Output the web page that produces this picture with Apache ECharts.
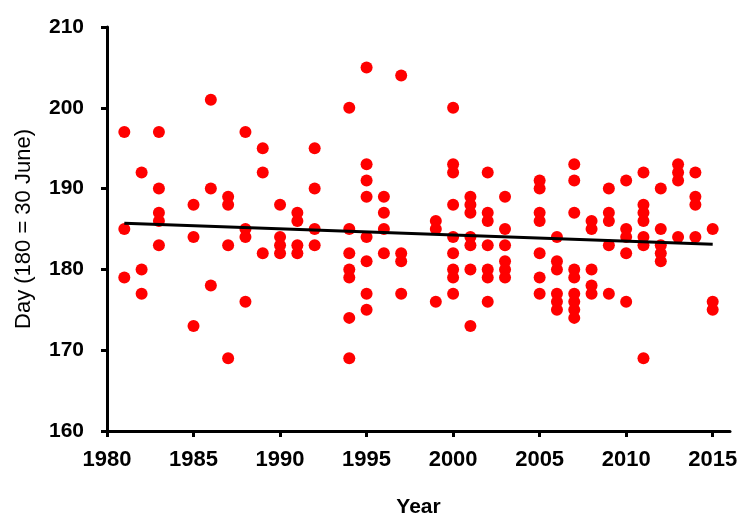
<!DOCTYPE html>
<html>
<head>
<meta charset="utf-8">
<script src="https://cdn.jsdelivr.net/npm/echarts@6/dist/echarts.min.js"></script>
<style>html,body{margin:0;padding:0;background:#fff}#c{width:753px;height:514px}</style>
</head>
<body>
<div id="c"></div>
<script>
var years = [
 1981,1981,1981,
 1982,1982,1982,
 1983,1983,1983,1983,1983,
 1985,1985,1985,
 1986,1986,1986,
 1987,1987,1987,1987,
 1988,1988,1988,1988,
 1989,1989,1989,
 1990,1990,1990,1990,
 1991,1991,1991,1991,
 1992,1992,1992,1992,
 1994,1994,1994,1994,1994,1994,1994,
 1995,1995,1995,1995,1995,1995,1995,1995,
 1996,1996,1996,1996,
 1997,1997,1997,1997,
 1999,1999,1999,
 2000,2000,2000,2000,2000,2000,2000,2000,2000,
 2001,2001,2001,2001,2001,2001,2001,
 2002,2002,2002,2002,2002,2002,2002,
 2003,2003,2003,2003,2003,2003,
 2005,2005,2005,2005,2005,2005,2005,
 2006,2006,2006,2006,2006,2006,
 2007,2007,2007,2007,2007,2007,2007,2007,2007,
 2008,2008,2008,2008,2008,
 2009,2009,2009,2009,2009,
 2010,2010,2010,2010,2010,
 2011,2011,2011,2011,2011,2011,2011,
 2012,2012,2012,2012,2012,
 2013,2013,2013,2013,
 2014,2014,2014,2014,
 2015,2015,2015
];
var days = [
 197,185,179,
 192,180,177,
 197,190,187,186,183,
 188,184,173,
 201,190,178,
 189,188,183,169,
 197,185,184,176,
 195,192,182,
 188,184,183,182,
 187,186,183,182,
 195,190,185,183,
 200,185,182,180,179,174,169,
 205,193,191,189,184,181,177,175,
 189,187,185,182,
 204,182,181,177,
 186,185,176,
 200,193,192,188,184,182,180,179,177,
 189,188,187,184,183,180,173,
 192,187,186,183,180,179,176,
 189,185,183,181,180,179,
 191,190,187,186,182,179,177,
 184,181,180,177,176,175,
 193,191,187,180,179,177,176,175,174,
 186,185,180,178,177,
 190,187,186,183,177,
 191,185,184,182,176,
 192,188,187,186,184,183,169,
 190,185,183,182,181,
 193,192,191,184,
 192,189,188,184,
 185,176,175
];
var trendYears = [1981, 2015];
var trendDays = [185.7, 183.1];
var xTickLabels = [1980,1985,1990,1995,2000,2005,2010,2015];

var pts = years.map(function(y,i){return [y, days[i]];});
var trend = trendYears.map(function(y,i){return [y, trendDays[i]];});
var font = 'Liberation Sans, Arial, sans-serif';

var chart = echarts.init(document.getElementById('c'));
chart.setOption({
  animation:false,
  backgroundColor:'#fff',
  grid:{left:107,right:23,top:27,bottom:83,containLabel:false,outerBoundsMode:'none'},
  xAxis:{
    type:'value',min:1980,max:2016,interval:5,
    name:'Year',nameLocation:'middle',nameGap:66,
    nameTextStyle:{fontFamily:font,fontWeight:'bold',fontSize:21,color:'#000'},
    axisLine:{show:true,lineStyle:{color:'#000',width:3}},
    axisTick:{show:true,length:6,lineStyle:{color:'#000',width:3},customValues:xTickLabels},
    axisLabel:{fontFamily:font,fontWeight:'bold',fontSize:22,color:'#000',margin:18,customValues:xTickLabels,hideOverlap:false,
      formatter:function(v){return String(v);}},
    splitLine:{show:false}
  },
  yAxis:{
    type:'value',min:160,max:210,interval:10,
    name:'Day (180 = 30 June)',nameLocation:'middle',nameGap:72,
    nameTextStyle:{fontFamily:font,fontSize:22,color:'#000'},
    axisLine:{show:true,lineStyle:{color:'#000',width:3}},
    axisTick:{show:true,length:6,lineStyle:{color:'#000',width:3}},
    axisLabel:{fontFamily:font,fontWeight:'bold',fontSize:21,color:'#000',margin:23,
      formatter:function(v){return String(v);}},
    splitLine:{show:false}
  },
  series:[
    {type:'scatter',data:pts,symbol:'circle',symbolSize:12,itemStyle:{color:'#ff0000',opacity:1},z:2},
    {type:'line',data:trend,symbol:'none',lineStyle:{color:'#000',width:3},z:3}
  ]
});
</script>
</body>
</html>
